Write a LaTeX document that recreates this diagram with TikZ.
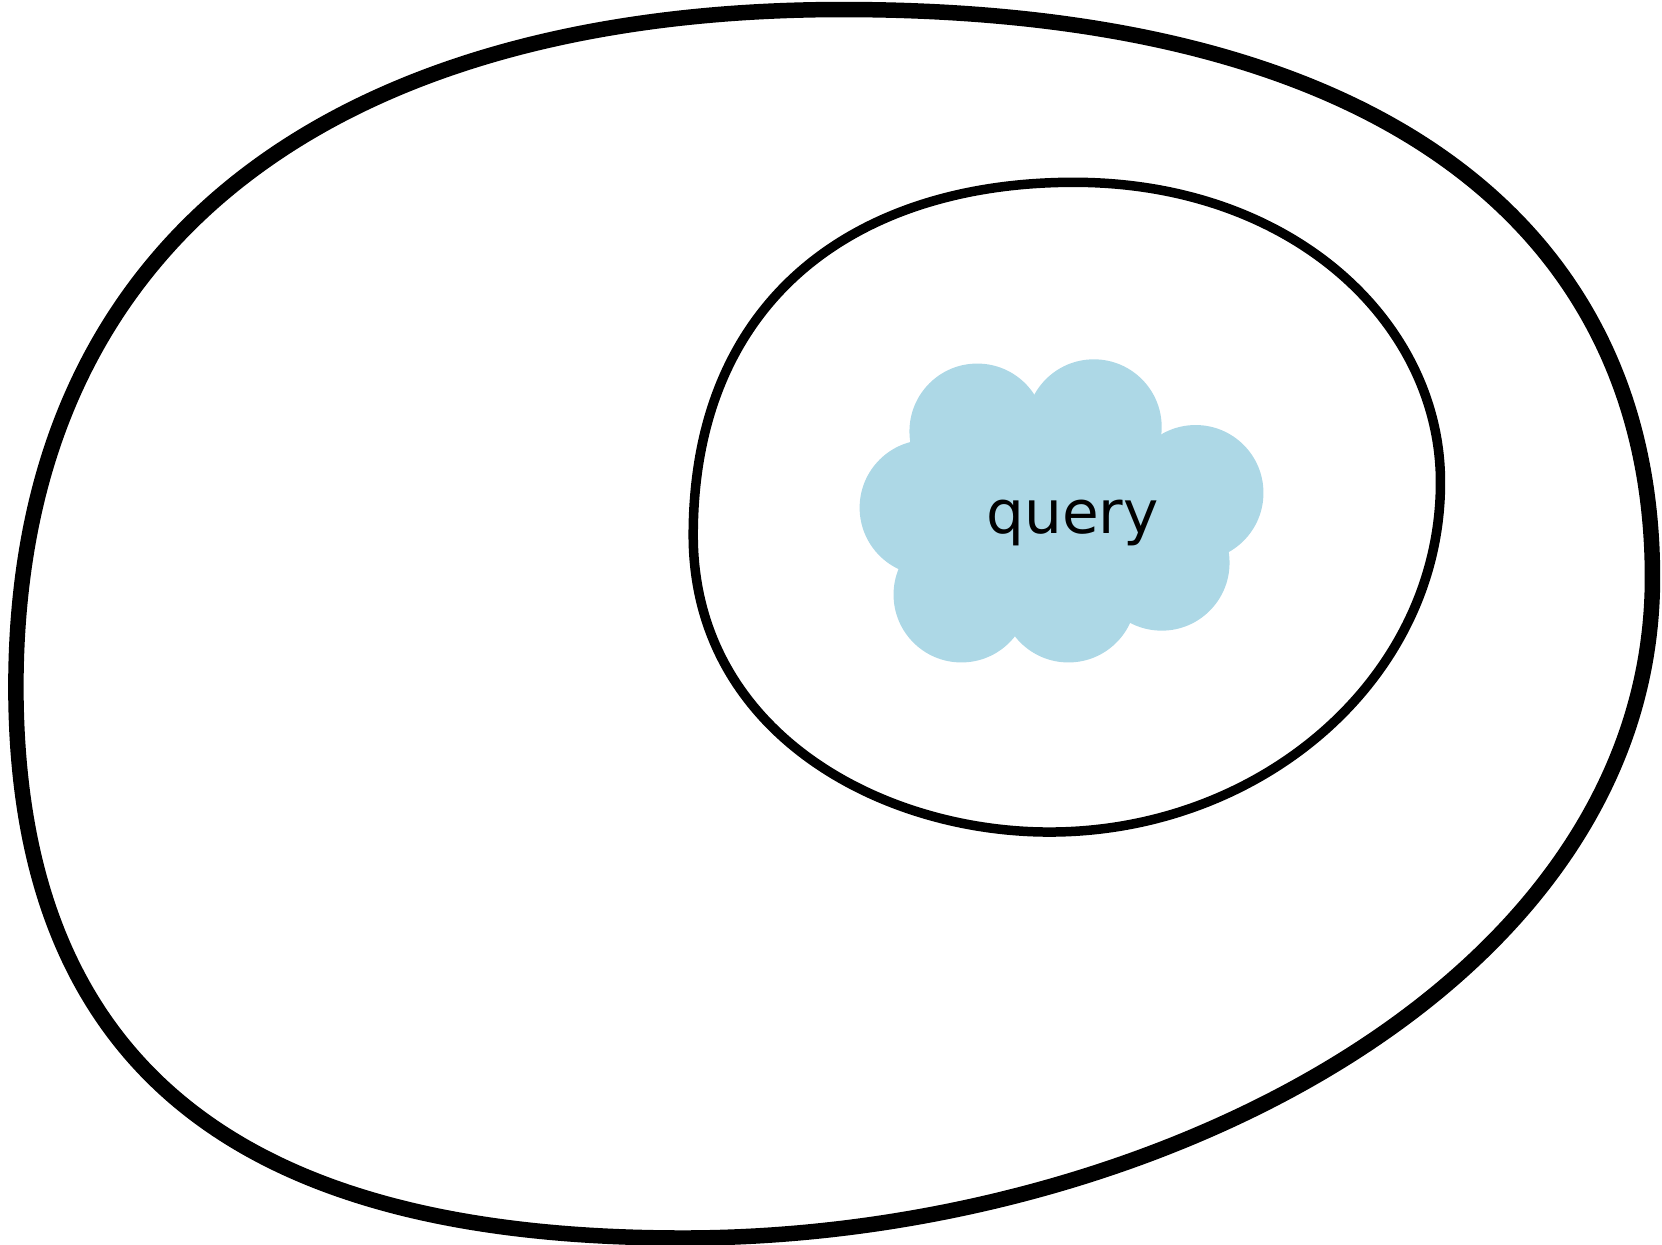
\documentclass[tikz,border=0pt]{standalone}
\usepackage{fontspec}
\newfontfamily\labelfont{DejaVu Sans}
\definecolor{myBlue}{RGB}{173,216,230}

\begin{document}
\begin{tikzpicture}[%
    x=0.0106cm,
    y=-0.0106cm,
    every node/.style={
        font=\labelfont\fontsize{17}{20}\selectfont,
    },
]
\useasboundingbox (0,0) rectangle (1568,1174.5);

% place outer region
\draw [line width=0.155cm] (795,9)
    .. controls (1310,9) and (1559,220) .. (1559,545)
    .. controls (1559,930) and (1080,1168) .. (645,1168)
    .. controls (270,1168) and (15,1040) .. (15,648)
    .. controls (15,200) and (350,9) .. (795,9) -- cycle;

% place inner region
\draw [line width=0.095cm] (1013,172)
    .. controls (1220,172) and (1359,305) .. (1359,455)
    .. controls (1359,640) and (1190,785) .. (990,785)
    .. controls (830,785) and (654,690) .. (654,505)
    .. controls (654,280) and (810,172) .. (1013,172) -- cycle;

% place cloud
\foreach \x/\y in {922/407,1032/403,1128/465,1096/531,1008/561,907/561,875/479} {
    \fill [myBlue] (\x,\y) circle [radius=64];
}
\fill [myBlue] (976,374) -- (1095,411) -- (1158,521) -- (1065,588)
    -- (957,599) -- (848,535) -- (860,415) -- cycle;

% place label
\node [anchor=base] (query) at (1012,503) {query};

\end{tikzpicture}
\end{document}
